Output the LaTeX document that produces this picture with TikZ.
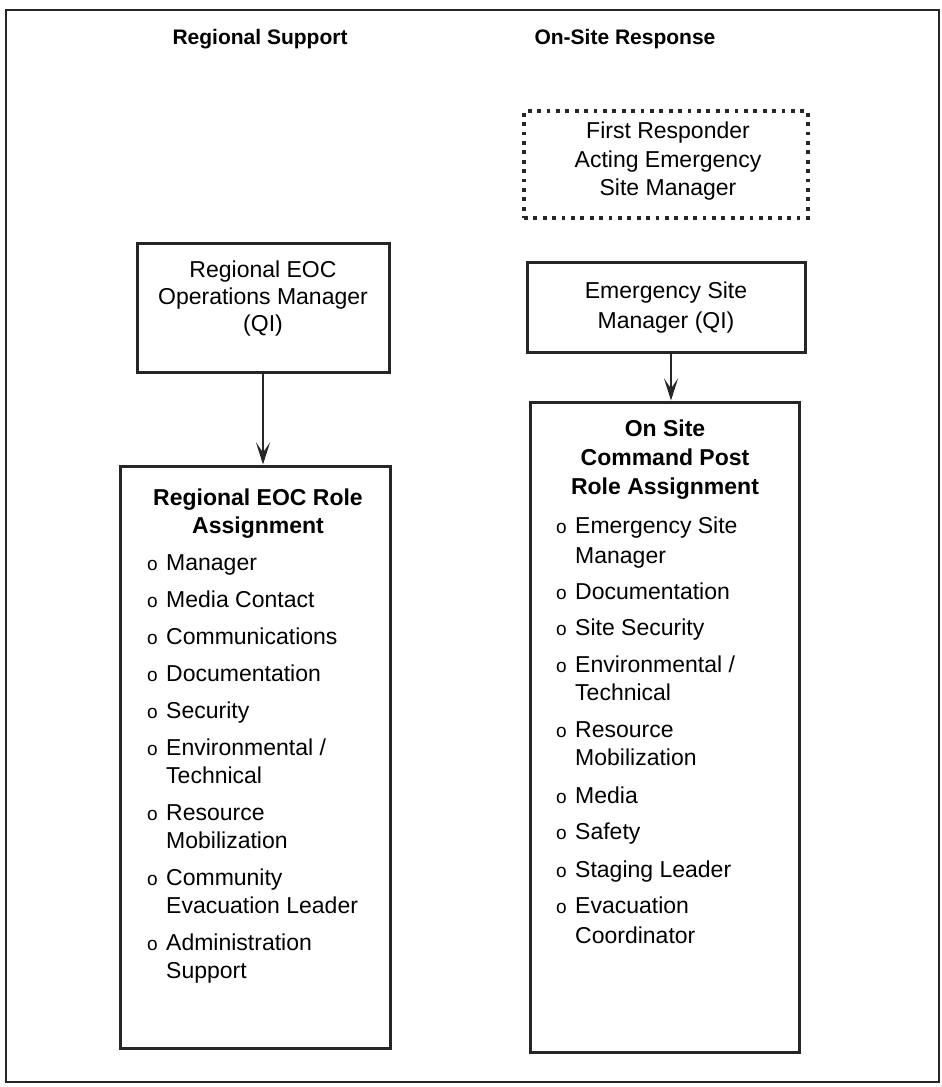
\documentclass[tikz,border=0pt]{standalone}
\usepackage{fontspec}
\setmainfont{Liberation Sans}
\usetikzlibrary{arrows.meta}
\newcommand\slsh{/}
\begin{document}
\begin{tikzpicture}[x=1pt,y=-1pt,
  box/.style={draw=black!85,line width=3pt,inner sep=0pt,fill=none},
  dotbox/.style={draw=black!85,line width=3.8pt,dash pattern=on 3.8pt off 5.6pt,inner sep=0pt},
  txt/.style={font=\fontsize{23}{28}\selectfont,inner sep=0pt,anchor=base},
  hdr/.style={font=\bfseries\fontsize{23}{28}\selectfont,inner sep=0pt,anchor=base},
  ttl/.style={font=\bfseries\fontsize{21}{26}\selectfont,inner sep=0pt,anchor=base},
  itm/.style={font=\fontsize{23}{28}\selectfont,inner sep=0pt,anchor=base west},
  bul/.style={font=\fontsize{19}{24}\selectfont,inner sep=0pt,anchor=base west},
  arr/.style={draw=black!85,line width=2.6pt,-{Stealth[length=22pt,width=14pt,inset=10pt]}}]
\useasboundingbox (0,0) rectangle (942,1087);
% outer frame
\draw[draw=black!85,line width=2.6pt] (6,10) rectangle (939,1082);
% titles
\node[ttl] (t1) at (260,44) {Regional Support};
\node[ttl] (t2) at (625,44) {On-Site Response};
% boxes
\node[dotbox,minimum width=284pt,minimum height=107pt] (fr) at (666,164.5) {};
\node[box,minimum width=252pt,minimum height=129pt] (rem) at (263,307.5) {};
\node[box,minimum width=278pt,minimum height=90pt] (esm) at (666,307) {};
\node[box,minimum width=270pt,minimum height=582pt] (rl) at (255,757) {};
\node[box,minimum width=269pt,minimum height=650pt] (rr) at (664.5,727) {};
% arrows
\draw[arr] (rem.south) -- (rem.south |- rl.north);
\draw[arr] ([xshift=5pt]esm.south) -- ([xshift=5pt]esm.south |- rr.north);
% dotted box text
\node[txt] (fr1) at (668,138) {First Responder};
\node[txt] (fr2) at (668,167) {Acting Emergency};
\node[txt] (fr3) at (668,195) {Site Manager};
% top-left box text
\node[txt] (rem1) at (263,277) {Regional EOC};
\node[txt] (rem2) at (263,304) {Operations Manager};
\node[txt] (rem3) at (263,331) {(QI)};
% esm box text
\node[txt] (esm1) at (666,298) {Emergency Site};
\node[txt] (esm2) at (666,328) {Manager (QI)};
% headers
\node[hdr] (lh1) at (258,505) {Regional EOC Role};
\node[hdr] (lh2) at (258,533) {Assignment};
\node[hdr] (rh1) at (665,436) {On Site};
\node[hdr] (rh2) at (665,465) {Command Post};
\node[hdr] (rh3) at (665,494) {Role Assignment};
% left list
\foreach \y/\t [count=\i] in {570/Manager,607/Media Contact,644/Communications,681/Documentation,718/Security,755/Environmental \slsh,783/Technical,820/Resource,848/Mobilization,885/Community,913/Evacuation Leader,950/Administration,978/Support}
  \node[itm] (lt\i) at (166,\y) {\t};
\foreach \y [count=\i] in {570,607,644,681,718,755,820,885,950}
  \node[bul] (lb\i) at (147,\y) {o};
% right list
\foreach \y/\t [count=\i] in {533/Emergency Site,563/Manager,599/Documentation,635/Site Security,672/Environmental \slsh,700/Technical,737/Resource,765/Mobilization,803/Media,839/Safety,877/Staging Leader,913/Evacuation,943/Coordinator}
  \node[itm] (rt\i) at (575,\y) {\t};
\foreach \y [count=\i] in {533,599,635,672,737,803,839,877,913}
  \node[bul] (rb\i) at (556,\y) {o};
\end{tikzpicture}
\end{document}
